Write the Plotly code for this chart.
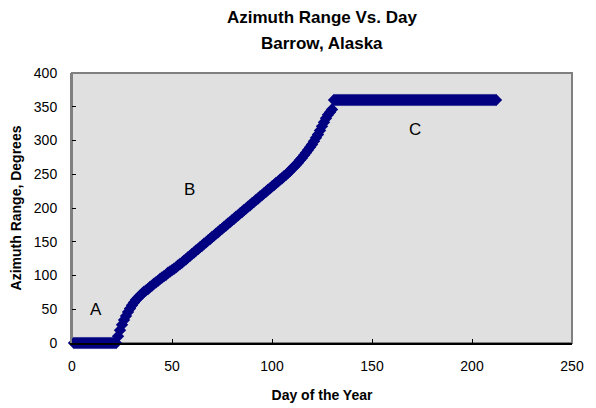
import plotly.graph_objects as go

# Day of year and azimuth range (degrees)
days_flat_a = list(range(1, 23))
values_flat_a = [0] * 22

days_rise = list(range(23, 131))
values_rise = [
    10, 19, 27, 34, 40, 46, 51, 56, 60, 64,          # 23-32
    67, 70, 73, 76, 78, 80, 83, 85, 88, 90,          # 33-42
    92, 95, 97, 99, 101, 104, 106, 108, 110, 112,    # 43-52
    115, 117, 119, 122, 124, 127, 129, 132, 134, 137,  # 53-62
    139, 142, 144, 147, 149, 152, 154, 157, 159, 162,  # 63-72
    164, 167, 169, 172, 174, 177, 179, 182, 184, 187,  # 73-82
    189, 192, 194, 197, 199, 202, 204, 207, 209, 212,  # 83-92
    214, 217, 219, 222, 224, 227, 229, 232, 234, 237,  # 93-102
    239, 242, 244, 247, 249, 252, 255, 258, 261, 264,  # 103-112
    267, 271, 274, 278, 282, 286, 290, 294, 299, 304,  # 113-122
    309, 315, 321, 327, 333, 338, 342, 346,            # 123-130
]

days_flat_c = list(range(131, 213))
values_flat_c = [360] * len(days_flat_c)

days = days_flat_a + days_rise + days_flat_c
values = values_flat_a + values_rise + values_flat_c

x_ticks = [0, 50, 100, 150, 200, 250]
y_ticks = [0, 50, 100, 150, 200, 250, 300, 350, 400]

labels = ["A", "B", "C"]
label_x = [12, 58.5, 171.5]
label_y = [49, 227, 316]

title_lines = ["Azimuth Range Vs. Day", "Barrow, Alaska"]

FONT = "Arial, Liberation Sans, Helvetica, sans-serif"

fig = go.Figure()
fig.add_trace(go.Scatter(
    x=days, y=values, mode="markers",
    marker=dict(symbol="diamond", size=9.5, color="#000080",
                line=dict(width=0)),
    showlegend=False, cliponaxis=False,
))

for t, xx, yy in zip(labels, label_x, label_y):
    fig.add_annotation(x=xx, y=yy, text=t, showarrow=False,
                       font=dict(family=FONT, size=17, color="black"))

fig.add_shape(type="rect", xref="paper", yref="paper", x0=0, y0=0, x1=1, y1=1,
              line=dict(color="#808080", width=2), layer="below")

for line, shift in zip(title_lines, [56, 30]):
    fig.add_annotation(xref="paper", yref="paper", x=0.5, y=1, yshift=shift,
                       xanchor="center", yanchor="middle", showarrow=False,
                       text="<b>" + line + "</b>",
                       font=dict(family=FONT, size=17, color="black"))

fig.update_layout(
    width=588, height=400,
    margin=dict(l=64, r=24, t=65, b=65, autoexpand=False),
    paper_bgcolor="white", plot_bgcolor="#e0e0e0",
    font=dict(family=FONT, size=14, color="black"),
    xaxis=dict(range=[0, 250], tickvals=x_ticks, showgrid=False, zeroline=False,
               showline=True, linecolor="black", linewidth=2,
               ticks="inside", ticklen=4, tickcolor="black",
               ticklabelstandoff=9, automargin=False,
               title=dict(text="<b>Day of the Year</b>", standoff=17,
                          font=dict(family=FONT, size=14))),
    yaxis=dict(range=[0, 400], tickvals=y_ticks, showgrid=False, zeroline=False,
               showline=True, linecolor="#808080", linewidth=2,
               ticks="inside", ticklen=4, tickcolor="black",
               ticklabelstandoff=10, automargin=False,
               title=dict(text="<b>Azimuth Range, Degrees</b>", standoff=11,
                          font=dict(family=FONT, size=14))),
)

fig.write_html("out.html")
